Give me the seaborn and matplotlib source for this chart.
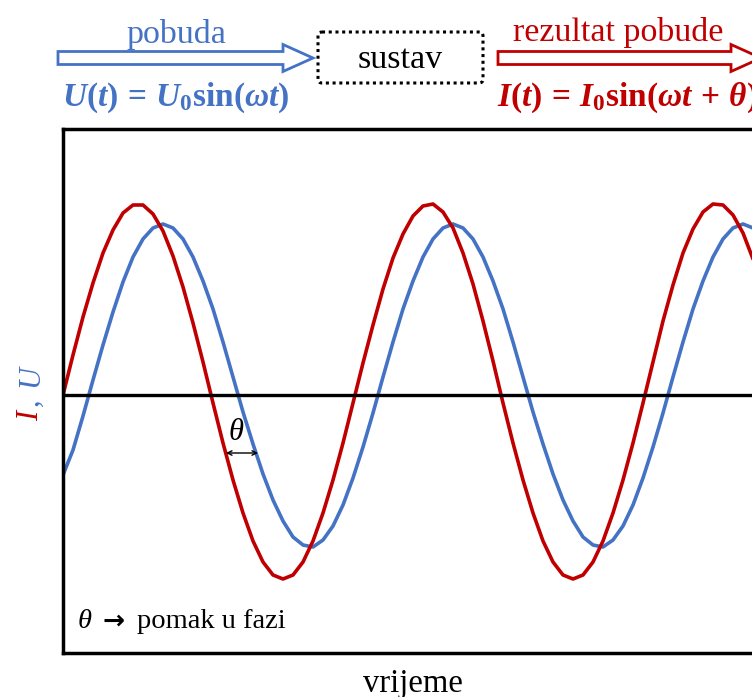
import numpy as np
import pandas as pd
import matplotlib
matplotlib.use('Agg')
import matplotlib.pyplot as plt
import seaborn as sns
from matplotlib.patches import FancyArrow, FancyBboxPatch

# time axis (arbitrary units) and the two signals
t = np.arange(71)
struja_I = [0.0, 4.0, 7.8, 11.2, 14.2, 16.5, 18.2, 19.0, 19.0, 18.1,
            16.4, 13.9, 10.8, 7.2, 3.3, -0.8, -4.8, -8.5, -11.8, -14.6,
            -16.7, -18.0, -18.4, -18.0, -16.7, -14.6, -11.8, -8.5, -4.8, -0.8,
            3.2, 7.0, 10.6, 13.7, 16.1, 17.9, 18.9, 19.1, 18.3, 16.7,
            14.2, 11.1, 7.4, 3.4, -0.8, -4.8, -8.5, -11.8, -14.6, -16.7,
            -18.0, -18.4, -18.0, -16.7, -14.6, -11.8, -8.5, -4.8, -0.8, 3.3,
            7.4, 11.0, 14.2, 16.6, 18.3, 19.1, 19.0, 18.0, 16.2, 13.6, 10.3]
napon_U = [-8.0, -5.5, -2.1, 1.5, 5.0, 8.3, 11.3, 13.8, 15.6, 16.7,
           17.1, 16.7, 15.6, 13.8, 11.4, 8.6, 5.3, 1.8, -1.7, -4.9,
           -7.9, -10.5, -12.6, -14.2, -15.0, -15.2, -14.5, -13.1, -11.0, -8.3,
           -5.2, -1.8, 1.8, 5.3, 8.6, 11.4, 13.8, 15.6, 16.7, 17.1,
           16.7, 15.6, 13.8, 11.4, 8.6, 5.3, 1.8, -1.7, -4.9, -7.9,
           -10.5, -12.6, -14.2, -15.0, -15.2, -14.5, -13.1, -11.0, -8.3, -5.2,
           -1.8, 1.8, 5.3, 8.6, 11.4, 13.8, 15.6, 16.7, 17.1, 16.7, 15.6]

RED = '#C00000'
BLUE = '#4472C4'

sns.set_style('white')
plt.rcParams['font.family'] = ['Liberation Serif', 'DejaVu Sans']
plt.rcParams['text.color'] = 'black'
plt.rcParams['axes.labelcolor'] = 'black'
plt.rcParams['mathtext.fontset'] = 'custom'
plt.rcParams['mathtext.rm'] = 'Liberation Serif:bold'
plt.rcParams['mathtext.it'] = 'Liberation Serif:italic:bold'
plt.rcParams['mathtext.bf'] = 'Liberation Serif:bold'

df = pd.DataFrame({
    't': np.concatenate([t, t]),
    'val': napon_U + struja_I,
    'signal': ['U'] * len(napon_U) + ['I'] * len(struja_I),
})

fig = plt.figure(figsize=(7.52, 6.97), dpi=100)
ax = fig.add_axes([63 / 752, 44 / 697, 699 / 752, 524 / 697])

sns.lineplot(data=df, x='t', y='val', hue='signal', hue_order=['U', 'I'],
             palette={'U': BLUE, 'I': RED}, linewidth=2.6, legend=False, ax=ax,
             solid_joinstyle='round')
ax.axhline(0, color='black', lw=2.4, zorder=5)
ax.set_xlim(0, 69.9)
ax.set_ylim(-25.8, 26.6)
ax.set_xticks([])
ax.set_yticks([])
ax.set_ylabel('')
ax.set_xlabel('vrijeme', fontsize=23.5, labelpad=11)
for s in ax.spines.values():
    s.set_color('black')
    s.set_linewidth(2.5)

# overlay in pixel units for the diagram on top
ov = fig.add_axes([0, 0, 1, 1])
ov.set_xlim(0, 752)
ov.set_ylim(697, 0)
ov.axis('off')
ov.patch.set_alpha(0)

ov.text(176, 34, 'pobuda', color=BLUE, fontsize=24.5, ha='center', va='center')
ov.text(176, 98, r'$U(t)\,=\,U_0\sin(\omega t)$', color=BLUE, fontsize=24,
        ha='center', va='center')
ov.add_patch(FancyArrow(58, 58, 255, 0, width=13, head_width=27, head_length=30,
                        length_includes_head=True, fc='white', ec=BLUE, lw=2))

ov.add_patch(FancyBboxPatch((318, 32), 165, 51, boxstyle='round,pad=0,rounding_size=4',
                            fill=False, ec='black', lw=2.2, ls=(0, (1, 1.2))))
ov.text(400, 60, 'sustav', fontsize=24.5, ha='center', va='center')

ov.text(618, 33, 'rezultat pobude', color=RED, fontsize=24.5, ha='center', va='center')
ov.text(497, 98, r'$I(t)\,=\,I_0\sin(\omega t\,+\,\theta)$', color=RED, fontsize=24,
        ha='left', va='center')
ov.add_patch(FancyArrow(498, 58, 263, 0, width=13, head_width=27, head_length=30,
                        length_includes_head=True, fc='white', ec=RED, lw=2))

# y label in two colours
ov.text(38, 421, 'I', color=RED, fontsize=22, style='italic', rotation=90,
        rotation_mode='anchor', ha='left', va='baseline')
ov.text(38, 406, ',', color=BLUE, fontsize=22, rotation=90,
        rotation_mode='anchor', ha='left', va='baseline')
ov.text(38, 387, 'U', color=BLUE, fontsize=22, style='italic', rotation=90,
        rotation_mode='anchor', ha='left', va='baseline')

# phase shift mark
ov.text(236, 432, 'θ', fontsize=22, style='italic', ha='center', va='center')
ov.annotate('', xy=(226, 453), xytext=(258, 453),
            arrowprops=dict(arrowstyle='<->', lw=1, color='black', mutation_scale=8,
                            shrinkA=0, shrinkB=0))

ov.text(78, 622, 'θ', fontsize=20.5, style='italic', ha='left', va='center')
ov.text(102, 622, '→', fontsize=19, fontweight='bold', ha='left', va='center',
        family='DejaVu Sans')
ov.text(137, 622, 'pomak u fazi', fontsize=20.5, ha='left', va='center')

fig.savefig('out.png', dpi=100)
